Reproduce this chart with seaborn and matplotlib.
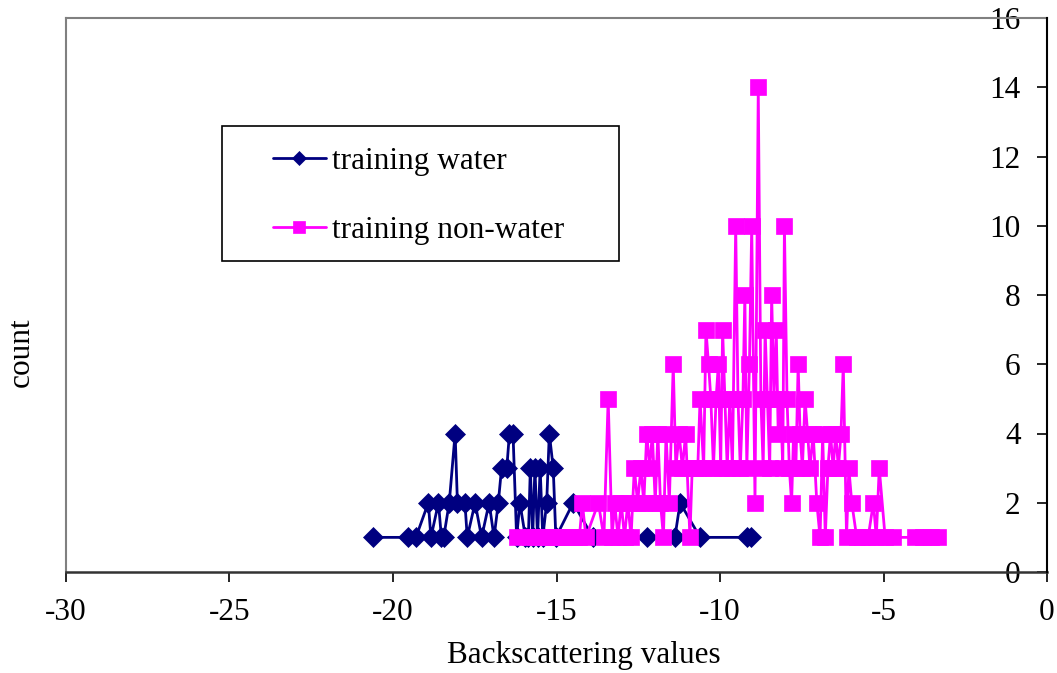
import matplotlib
matplotlib.use("Agg")
import matplotlib.pyplot as plt
from matplotlib.patches import Rectangle
import seaborn as sns
import pandas as pd

# ---- data -------------------------------------------------------------
water_x = [-20.62, -19.53, -19.30, -18.92, -18.84, -18.61, -18.52, -18.45, -18.28, -18.10,
           -18.03, -17.80, -17.73, -17.49, -17.29, -17.06, -16.91, -16.78, -16.68, -16.52,
           -16.44, -16.33, -16.22, -16.12, -15.95, -15.86, -15.80, -15.73, -15.66, -15.58,
           -15.50, -15.42, -15.30, -15.22, -15.10, -15.02, -14.49, -13.89, -12.24, -11.38,
           -11.22, -10.61, -9.17, -9.05]
water_count = [1, 1, 1, 2, 1, 2, 1, 1, 2, 4,
               2, 2, 1, 2, 1, 2, 1, 2, 3, 3,
               4, 4, 1, 2, 1, 1, 3, 1, 3, 1,
               3, 1, 2, 4, 3, 1, 2, 1, 1, 1,
               2, 1, 1, 1]

nonwater_x = [-16.22,
              -15.80, -15.65, -15.50, -15.35, -15.20, -15.05, -14.90, -14.75, -14.60, -14.45, -14.30,
              -14.21, -14.10, -13.72, -13.55, -13.42, -13.30, -13.22, -13.12, -13.02, -12.92, -12.82, -12.72,
              -12.62, -12.52, -12.42, -12.33, -12.24, -12.15, -12.07, -11.98, -11.90, -11.82, -11.73, -11.65,
              -11.55, -11.43, -11.35, -11.25, -11.15, -11.05,
              -10.92, -10.85, -10.75, -10.68, -10.61, -10.50, -10.43, -10.35, -10.28, -10.20, -10.12, -10.05,
              -9.98, -9.92, -9.85, -9.78, -9.70, -9.62,
              -9.52, -9.45, -9.38, -9.30, -9.24, -9.18, -9.10, -9.03, -8.93, -8.83, -8.75, -8.68, -8.62,
              -8.55, -8.48, -8.42, -8.35, -8.28, -8.22, -8.15, -8.08, -8.03,
              -7.95, -7.88, -7.81, -7.75, -7.68, -7.61, -7.55, -7.48, -7.40, -7.32, -7.25, -7.15, -7.04,
              -6.94, -6.86, -6.78, -6.70, -6.62, -6.54, -6.46, -6.38, -6.30, -6.23, -6.13, -6.06, -5.97,
              -5.82, -5.65, -5.47, -5.31, -5.22, -5.13, -4.95, -4.70, -4.04, -3.80, -3.55, -3.32]
nonwater_count = [1,
                  1, 1, 1, 1, 1, 1, 1, 1, 1, 1, 1,
                  2, 1, 2, 1, 5, 1, 2, 1, 2, 1, 2, 1,
                  3, 2, 3, 2, 4, 3, 4, 2, 4, 2, 1, 4,
                  2, 6, 3, 4, 3, 4,
                  1, 3, 3, 3, 5, 3, 7, 6, 5, 3, 5, 6,
                  3, 7, 5, 3, 5, 3,
                  10, 5, 3, 5, 8, 3, 6, 10, 2, 14, 5, 3, 7,
                  5, 3, 8, 5, 7, 4, 5, 3, 10,
                  5, 3, 2, 4, 3, 6, 4, 3, 5, 4, 3, 4, 2,
                  1, 4, 1, 3, 4, 3, 4, 3, 4, 6, 1, 3, 2,
                  1, 1, 1, 2, 1, 3, 1, 1, 1, 1, 1, 1]

series_names = ["training water", "training non-water"]
x_ticks = [-30, -25, -20, -15, -10, -5, 0]
y_ticks = [0, 2, 4, 6, 8, 10, 12, 14, 16]

BLUE = "#000080"
PINK = "#FF00FF"

# ---- style ------------------------------------------------------------
sns.set_style("white")
plt.rcParams["font.family"] = ["Liberation Serif", "DejaVu Serif"]
plt.rcParams["text.color"] = "black"
plt.rcParams["axes.labelcolor"] = "black"
plt.rcParams["xtick.color"] = "black"
plt.rcParams["ytick.color"] = "black"
FS = 22.5

W, H = 1057, 673
fig = plt.figure(figsize=(W / 100, H / 100), dpi=100)
L, R, T, B = 66, 1047, 18, 572
ax = fig.add_axes([L / W, 1 - B / H, (R - L) / W, (B - T) / H])

df_w = pd.DataFrame({"x": water_x, "count": water_count})
df_n = pd.DataFrame({"x": nonwater_x, "count": nonwater_count})

sns.lineplot(data=df_w, x="x", y="count", ax=ax, color=BLUE, lw=2.0,
             marker="D", markersize=10, markeredgecolor=BLUE, markeredgewidth=0.5,
             estimator=None, sort=False, label=series_names[0])
sns.lineplot(data=df_n, x="x", y="count", ax=ax, color=PINK, lw=2.0,
             marker="s", markersize=11, markeredgecolor=PINK, markeredgewidth=0.5,
             estimator=None, sort=False, label=series_names[1])

ax.set_xlim(-30, 0)
ax.set_ylim(0, 16)
ax.set_xticks(x_ticks)
ax.set_yticks(y_ticks)
ax.set_xticklabels([str(v) for v in x_ticks])
ax.set_yticklabels([str(v) for v in y_ticks])

# spines: value axis sits at x = 0 (right edge), grey plot-area border elsewhere
ax.spines["left"].set_position(("data", 0))
ax.spines["left"].set_color("black")
ax.spines["left"].set_linewidth(1.5)
ax.spines["left"].set_zorder(3)
ax.spines["right"].set_position(("data", -30))
ax.spines["right"].set_color("#808080")
ax.spines["right"].set_linewidth(1.5)
ax.spines["top"].set_color("#808080")
ax.spines["top"].set_linewidth(1.5)
ax.spines["bottom"].set_color("#333333")
ax.spines["bottom"].set_linewidth(1.8)
for s in ax.spines.values():
    s.set_visible(True)

ax.yaxis.set_ticks_position("left")
ax.xaxis.set_ticks_position("bottom")
ax.tick_params(axis="y", direction="out", length=7, width=1.2, pad=12,
               labelsize=FS, colors="black")
ax.tick_params(axis="x", direction="out", length=7, width=1.2, pad=12,
               labelsize=FS, colors="black")
ax.grid(False)

ax.set_xlabel("Backscattering values", fontsize=FS, color="black")
ax.set_ylabel("count", fontsize=FS, color="black")
ax.xaxis.label.set_va("center")
ax.yaxis.label.set_va("center")
ax.xaxis.set_label_coords((584 - L) / (R - L), (B - 655) / (B - T))
ax.yaxis.set_label_coords((21 - L) / (R - L), (B - 352) / (B - T))

# legend
leg = ax.legend(loc="upper left", bbox_to_anchor=(273 / W, 1 - 147 / H),
                bbox_transform=fig.transFigure, frameon=False, fontsize=FS,
                borderpad=0, borderaxespad=0, handlelength=1.68,
                handletextpad=0.2, labelspacing=1.27, markerscale=0.75,
                labelcolor="black")
box = Rectangle((222 / W, 1 - 261 / H), 397 / W, 135 / H,
                transform=fig.transFigure, fill=False,
                edgecolor="black", lw=1.2, zorder=5)
box.set_figure(fig)
fig.patches.append(box)

fig.savefig("out.png", dpi=100)
